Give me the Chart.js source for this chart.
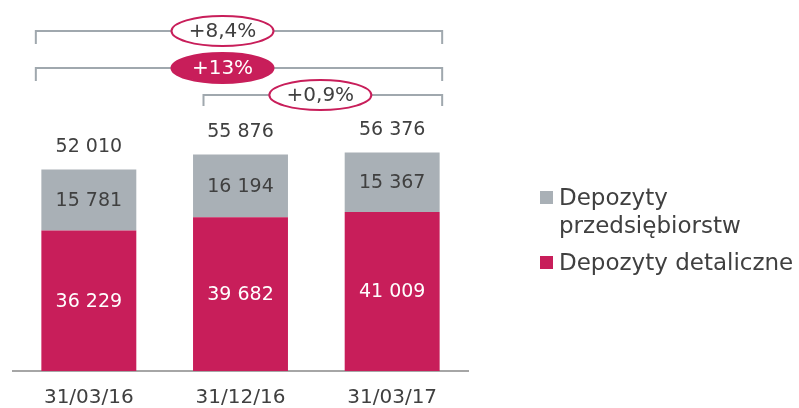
<!DOCTYPE html>
<html>
<head>
<meta charset="utf-8">
<script src="https://cdn.jsdelivr.net/npm/chart.js@4.4.1/dist/chart.umd.min.js"></script>
<style>
    body { margin: 0; background: #fff; }
    #wrap { position: relative; width: 799px; height: 408px; }
    .legend { position: absolute; left: 540px; font-family: 'DejaVu Sans', sans-serif; font-size: 23px; color: #404040; line-height: 28px; }
    .legend span.box { position: absolute; left: 0; top: 8px; width: 13px; height: 13px; }
    .legend div.txt { margin-left: 19px; }
</style>
</head>
<body>
<div id="wrap">
    <canvas id="depositsChart" width="799" height="408"></canvas>
    <div class="legend" style="top: 183px;"><span class="box" style="background:#A9B0B6"></span><div class="txt">Depozyty<br>przedsiębiorstw</div></div>
    <div class="legend" style="top: 248px;"><span class="box" style="background:#C81E5A"></span><div class="txt">Depozyty detaliczne</div></div>
</div>
<script>
var categories = ['31/03/16', '31/12/16', '31/03/17'];
var retailDeposits = [36229, 39682, 41009];
var corporateDeposits = [15781, 16194, 15367];
var totals = [52010, 55876, 56376];
var growthLabels = ['+8,4%', '+13%', '+0,9%'];

var crimson = '#C81E5A';
var grey = '#A9B0B6';
var textColor = '#404040';
var fontFamily = "'DejaVu Sans', sans-serif";

function fmt(v) {
    return String(v).replace(/\B(?=(\d{3})+(?!\d))/g, ' ');
}

// bracket layout: which bars they span, line height, offsets in px
var brackets = [
    { from: 0, to: 2, y: 31, drop: 13, left: -53, right: 50, ellipseDx: -18, label: growthLabels[0], filled: false },
    { from: 0, to: 2, y: 68, drop: 13, left: -53, right: 50, ellipseDx: -18, label: growthLabels[1], filled: true },
    { from: 1, to: 2, y: 95, drop: 11, left: -37, right: 50, ellipseDx: 4, label: growthLabels[2], filled: false }
];

var labelsPlugin = {
    id: 'labelsPlugin',
    afterDatasetsDraw: function(chart) {
        var ctx = chart.ctx;
        var xScale = chart.scales.x;
        ctx.save();
        ctx.textAlign = 'center';
        ctx.textBaseline = 'middle';
        ctx.font = '19px ' + fontFamily;

        chart.data.datasets.forEach(function(ds, i) {
            var meta = chart.getDatasetMeta(i);
            meta.data.forEach(function(bar, j) {
                ctx.fillStyle = i === 0 ? '#ffffff' : textColor;
                ctx.fillText(fmt(ds.data[j]), bar.x, (bar.y + bar.base) / 2 + 1);
            });
        });

        var topMeta = chart.getDatasetMeta(1);
        topMeta.data.forEach(function(bar, j) {
            ctx.fillStyle = textColor;
            ctx.fillText(fmt(totals[j]), bar.x, bar.y - 22);
        });

        brackets.forEach(function(b) {
            var c1 = xScale.getPixelForValue(b.from);
            var c2 = xScale.getPixelForValue(b.to);
            var x1 = c1 + b.left;
            var x2 = c2 + b.right;
            ctx.strokeStyle = '#A0A8AE';
            ctx.lineWidth = 2;
            ctx.beginPath();
            ctx.moveTo(x1, b.y + b.drop);
            ctx.lineTo(x1, b.y);
            ctx.lineTo(x2, b.y);
            ctx.lineTo(x2, b.y + b.drop);
            ctx.stroke();

            var cx = (c1 + c2) / 2 + b.ellipseDx;
            ctx.beginPath();
            ctx.ellipse(cx, b.y, 51, 15, 0, 0, Math.PI * 2);
            ctx.fillStyle = b.filled ? crimson : '#ffffff';
            ctx.fill();
            ctx.strokeStyle = crimson;
            ctx.lineWidth = 2;
            ctx.stroke();

            ctx.font = '20px ' + fontFamily;
            ctx.fillStyle = b.filled ? '#ffffff' : textColor;
            ctx.fillText(b.label, cx, b.y + 1);
        });
        ctx.restore();
    }
};

var ctx = document.getElementById('depositsChart').getContext('2d');
new Chart(ctx, {
    type: 'bar',
    data: {
        labels: categories,
        datasets: [
            {
                label: 'Depozyty detaliczne',
                data: retailDeposits,
                backgroundColor: crimson,
                borderWidth: 0
            },
            {
                label: 'Depozyty przedsiębiorstw',
                data: corporateDeposits,
                backgroundColor: grey,
                borderWidth: 0
            }
        ]
    },
    options: {
        responsive: false,
        animation: false,
        layout: { padding: { left: 13, right: 331, top: 61, bottom: 0 } },
        datasets: { bar: { barPercentage: 0.626, categoryPercentage: 1 } },
        plugins: {
            legend: { display: false },
            tooltip: { enabled: false }
        },
        scales: {
            x: {
                stacked: true,
                grid: { display: false, drawTicks: false },
                border: { display: true, color: '#A6A6A6', width: 2 },
                ticks: { color: textColor, padding: 15, font: { size: 20, family: fontFamily } },
                afterFit: function(scale) { scale.height = 37; }
            },
            y: {
                stacked: true,
                display: false,
                min: 0,
                max: 80000
            }
        }
    },
    plugins: [labelsPlugin]
});
</script>
</body>
</html>
